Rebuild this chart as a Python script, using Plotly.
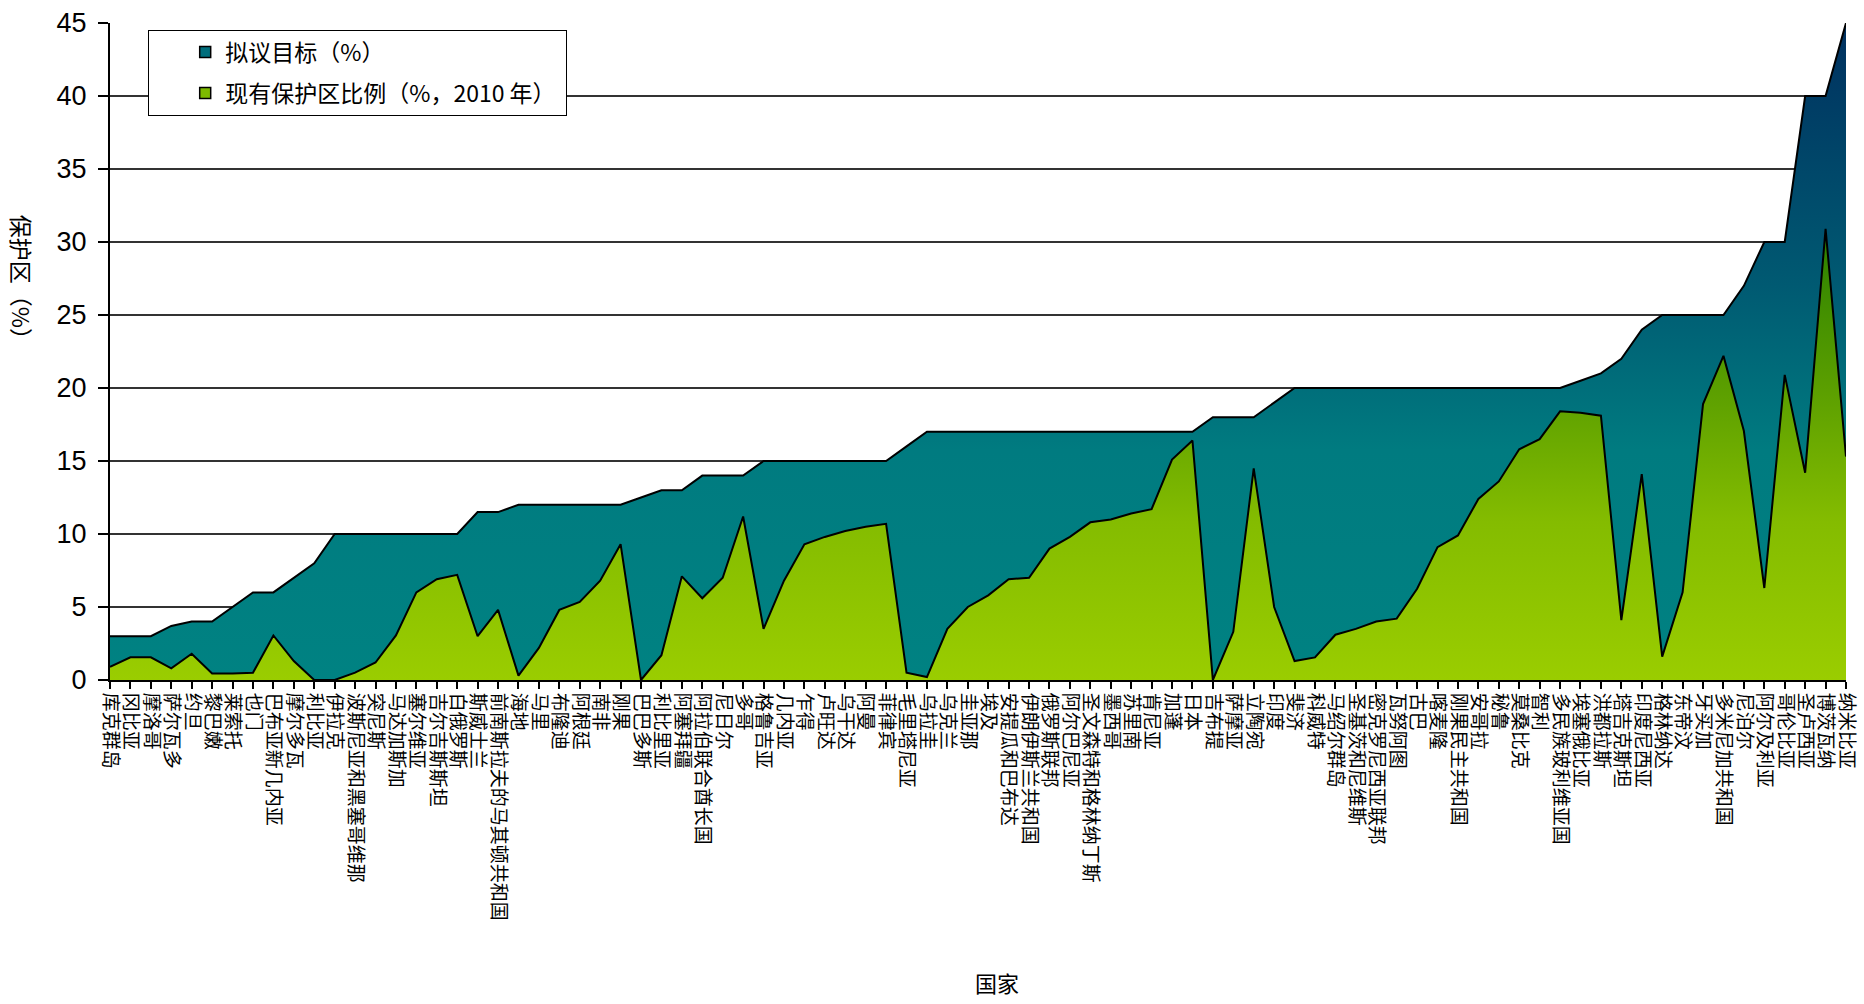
import plotly.graph_objects as go

countries = ["库克群岛","冈比亚","摩洛哥","萨尔瓦多","约旦","黎巴嫩","莱索托","也门","巴布亚新几内亚","摩尔多瓦",
             "利比亚","伊拉克","波斯尼亚和黑塞哥维那","突尼斯","马达加斯加","塞尔维亚","吉尔吉斯斯坦","白俄罗斯","斯威士兰","前南斯拉夫的马其顿共和国",
             "海地","马里","布隆迪","阿根廷","南非","刚果","巴巴多斯","利比里亚","阿塞拜疆","阿拉伯联合酋长国",
             "尼日尔","多哥","格鲁吉亚","几内亚","乍得","卢旺达","乌干达","阿曼","菲律宾","毛里塔尼亚",
             "乌拉圭","乌克兰","圭亚那","埃及","安提瓜和巴布达","伊朗伊斯兰共和国","俄罗斯联邦","阿尔巴尼亚","圣文森特和格林纳丁斯","墨西哥",
             "苏里南","肯尼亚","加蓬","日本","吉布提","萨摩亚","立陶宛","印度","斐济","科威特",
             "马绍尔群岛","圣基茨和尼维斯","密克罗尼西亚联邦","瓦努阿图","古巴","喀麦隆","刚果民主共和国","安哥拉","秘鲁","莫桑比克",
             "智利","多民族玻利维亚国","埃塞俄比亚","洪都拉斯","塔吉克斯坦","印度尼西亚","格林纳达","东帝汶","牙买加","多米尼加共和国",
             "尼泊尔","阿尔及利亚","哥伦比亚","圣卢西亚","博茨瓦纳","纳米比亚"]

target = [3, 3, 3, 3.7, 4, 4, 5, 6, 6, 7,
          8, 10, 10, 10, 10, 10, 10, 10, 11.5, 11.5,
          12, 12, 12, 12, 12, 12, 12.5, 13, 13, 14,
          14, 14, 15, 15, 15, 15, 15, 15, 15, 16,
          17, 17, 17, 17, 17, 17, 17, 17, 17, 17,
          17, 17, 17, 17, 18, 18, 18, 19, 20, 20,
          20, 20, 20, 20, 20, 20, 20, 20, 20, 20,
          20, 20, 20.5, 21, 22, 24, 25, 25, 25, 25,
          27, 30, 30, 40, 40, 45]

current = [0.9, 1.55, 1.55, 0.8, 1.8, 0.45, 0.45, 0.5, 3.05, 1.3,
           0, 0, 0.5, 1.2, 3.05, 6.0, 6.9, 7.2, 3.0, 4.8,
           0.3, 2.2, 4.8, 5.35, 6.8, 9.3, 0, 1.7, 7.1, 5.6,
           7.0, 11.2, 3.5, 6.8, 9.3, 9.8, 10.2, 10.5, 10.7, 0.5,
           0.2, 3.5, 5.0, 5.8, 6.9, 7.0, 9.0, 9.8, 10.8, 11.0,
           11.4, 11.7, 15.1, 16.4, 0, 3.3, 14.5, 5.0, 1.3, 1.55,
           3.1, 3.5, 4.0, 4.2, 6.25, 9.1, 9.9, 12.4, 13.6, 15.8,
           16.5, 18.4, 18.3, 18.1, 4.1, 14.1, 1.6, 6.0, 18.9, 22.2,
           17.05, 6.3, 20.9, 14.2, 30.9, 15.3]

series_names = ["拟议目标（%）", "现有保护区比例（%，2010 年）"]
legend_colors = ["#006E7C", "#7DBA00"]

x = list(range(len(countries)))
CJK = "Noto Sans CJK SC"

fig = go.Figure()
fig.add_trace(go.Scatter(
    x=x, y=target, name=series_names[0], mode="lines",
    line=dict(color="black", width=2),
    fill="tozeroy",
    fillgradient=dict(type="vertical", start=0, stop=45,
                      colorscale=[[0, "#008282"], [0.35, "#007B80"], [0.6, "#005A72"], [1, "#00305F"]]),
    hoverinfo="skip", showlegend=False,
))
fig.add_trace(go.Scatter(
    x=x, y=current, name=series_names[1], mode="lines",
    line=dict(color="black", width=2),
    fill="tozeroy",
    fillgradient=dict(type="vertical", start=0, stop=31,
                      colorscale=[[0, "#9ACD00"], [0.35, "#84BC00"], [0.65, "#5A9E00"], [1, "#2A8000"]]),
    hoverinfo="skip", showlegend=False,
))
# legend entries (small square keys)
for i, nm in enumerate(series_names):
    fig.add_trace(go.Scatter(
        x=[None], y=[None], name=nm + "\u00a0", mode="markers",
        marker=dict(symbol="square", size=11, color=legend_colors[i],
                    line=dict(color="black", width=1.5)),
        legendgroup=f"g{i}", showlegend=True,
    ))

fig.update_layout(
    width=1864, height=1004,
    margin=dict(l=110, r=18, t=23, b=324),
    paper_bgcolor="white", plot_bgcolor="white",
    showlegend=True,
    legend=dict(
        x=0.022, y=0.99, xanchor="left", yanchor="top",
        bgcolor="white", bordercolor="black", borderwidth=1,
        font=dict(family=CJK, size=23, color="black"),
        itemwidth=30, indentation=36, tracegroupgap=8,
    ),
    xaxis=dict(
        range=[0, len(countries) - 1], automargin=False,
        tickmode="array", tickvals=x, ticktext=countries,
        tickangle=90, ticklabeloverflow="allow",
        tickfont=dict(family=CJK, size=19, color="black"),
        ticks="outside", ticklen=7, tickcolor="black", tickwidth=1.5,
        showline=True, linecolor="black", linewidth=2,
        showgrid=False, zeroline=False,
    ),
    yaxis=dict(
        range=[0, 45], dtick=5, automargin=False,
        tickfont=dict(family="Arial, Liberation Sans", size=27, color="black"),
        ticks="outside", ticklen=10, tickcolor="black", tickwidth=1.5,
        ticklabelstandoff=6,
        showline=True, linecolor="black", linewidth=2,
        showgrid=True, gridcolor="#333333", gridwidth=1.5,
        zeroline=False,
    ),
    annotations=[
        dict(text="保护区（%）", xref="paper", yref="paper", x=-0.051, y=0.604,
             xanchor="center", yanchor="middle",
             textangle=90, showarrow=False, font=dict(family=CJK, size=23, color="black")),
        dict(text="国家", xref="paper", yref="paper", x=0.511, y=-0.46,
             xanchor="center", yanchor="middle",
             showarrow=False, font=dict(family=CJK, size=22, color="black")),
    ],
)

fig.write_html("out.html", config={"displayModeBar": False},
               post_script="document.body.style.margin='0';document.body.style.overflow='hidden';")
